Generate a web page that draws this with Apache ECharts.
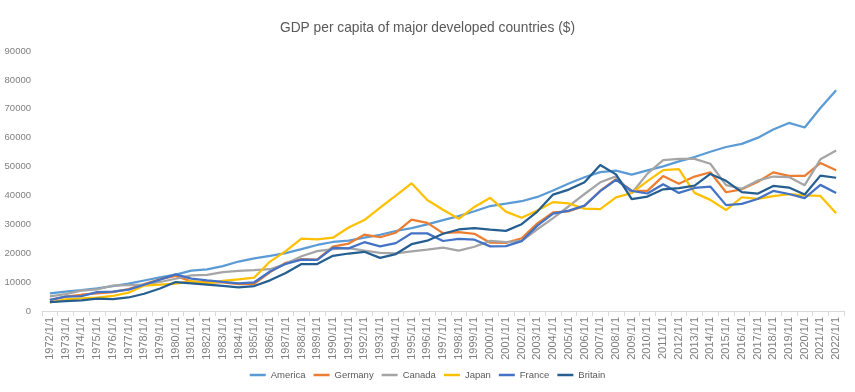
<!DOCTYPE html>
<html>
<head>
<meta charset="utf-8">
<script src="https://cdn.jsdelivr.net/npm/echarts@6/dist/echarts.min.js"></script>
<style>html,body{margin:0;padding:0;background:#fff}#c{width:855px;height:392px}</style>
</head>
<body>
<div id="c"></div>
<script>
var years = [];
for (var y = 1972; y <= 2022; y++) years.push(y + '/1/1');

var america = [6094,6726,7226,7801,8592,9453,10565,11674,12575,13976,14434,15544,17121,18237,19071,20039,21417,22857,23889,24342,25419,26387,27695,28691,29968,31459,32854,34515,36330,37134,37998,39490,41725,44123,46302,48050,48570,47195,48651,50066,51784,53291,55124,56763,57867,59915,62805,65095,63530,70249,76399];
var germany = [3781,4974,5627,6082,6519,7560,9281,11000,12139,10209,9914,9866,9313,9429,13463,16677,17931,17764,22304,23357,26432,25524,27098,31659,30504,26964,27290,26726,23636,23608,25197,30310,34107,34520,36354,41640,45612,41650,41572,46705,44065,46531,48024,41103,42136,44653,47974,46795,46773,51204,48718];
var canada = [5089,5838,7033,7511,8809,8919,9123,10044,11171,12338,12482,13425,13879,14114,14461,16310,18937,20716,21448,21768,20880,20121,19935,20614,21227,21901,20902,22238,24271,23822,24255,28300,32143,36267,40504,44543,46595,40773,47562,52224,52670,52635,50956,43596,42316,45129,46549,46374,43562,52497,55522];
var japan = [2944,3997,4354,4659,5198,6335,8821,9105,9463,10361,9578,10425,10984,11585,17112,20745,25052,24813,25359,28925,31465,35766,39934,44198,38437,35022,31903,36027,39169,34406,32289,34808,37689,37218,35434,35275,39339,40855,44968,48760,49145,40898,38475,34961,39375,38834,39751,40416,39987,39827,33815];
var france = [3828,4995,5177,6526,6684,7374,9088,10860,12697,11186,10566,10059,9594,9935,13686,16335,17798,17697,21865,21675,23814,22380,23497,26890,26871,24228,24974,24674,22364,22434,24177,29568,33741,34760,36470,41508,45413,41575,40676,43847,40875,42592,43069,36653,37063,38781,41557,40494,39055,43659,40886];
var britain = [3030,3426,3666,4300,4139,4681,5976,7805,10032,9599,9146,8691,8179,8652,10611,13119,16239,16240,19095,19901,20488,18390,19709,23123,24332,26734,28214,28670,28150,27744,30057,34420,40290,42030,44599,50566,47287,38713,39599,42109,42497,43426,47447,45071,41146,40617,43306,42747,40318,46870,46125];

var names = ['America','Germany','Canada','Japan','France','Britain'];
var colors = ['#5B9BD5','#ED7D31','#A5A5A5','#FFC000','#4472C4','#255E91'];
var dataSets = [america, germany, canada, japan, france, britain];

var font = "'Liberation Sans',Arial,sans-serif";
var chart = echarts.init(document.getElementById('c'), null, {renderer:'canvas'});
chart.setOption({
  animation: false,
  color: colors,
  title: {
    text: 'GDP per capita of major developed countries ($)',
    left: 'center', top: 16,
    textStyle: {fontFamily: font, fontSize: 13.75, fontWeight: 'normal', color: '#595959'}
  },
  legend: {
    data: names, top: 365, left: 'center',
    icon: 'rect', itemWidth: 16, itemHeight: 2.5, itemGap: 8,
    textStyle: {fontFamily: font, fontSize: 9.5, color: '#595959'}
  },
  grid: {left: 42, right: 11, top: 51, bottom: 81, containLabel: false},
  xAxis: {
    type: 'category', data: years, boundaryGap: true,
    axisLine: {lineStyle: {color: '#D9D9D9'}},
    axisTick: {show: true, alignWithLabel: false, length: 5, lineStyle: {color: '#D9D9D9'}},
    axisLabel: {interval: 0, rotate: 90, margin: 6, fontFamily: font, fontSize: 11, color: '#7F7F7F'}
  },
  yAxis: {
    type: 'value', min: 0, max: 90000, interval: 10000,
    axisLine: {show: false}, axisTick: {show: false},
    splitLine: {show: false},
    axisLabel: {margin: 11, fontFamily: font, fontSize: 9.5, color: '#7F7F7F',
      formatter: function (v) { return String(v); }}
  },
  series: names.map(function(n, i){
    return {name: n, type: 'line', data: dataSets[i], symbol: 'none', lineStyle: {width: 2.25}};
  })
});
</script>
</body>
</html>
